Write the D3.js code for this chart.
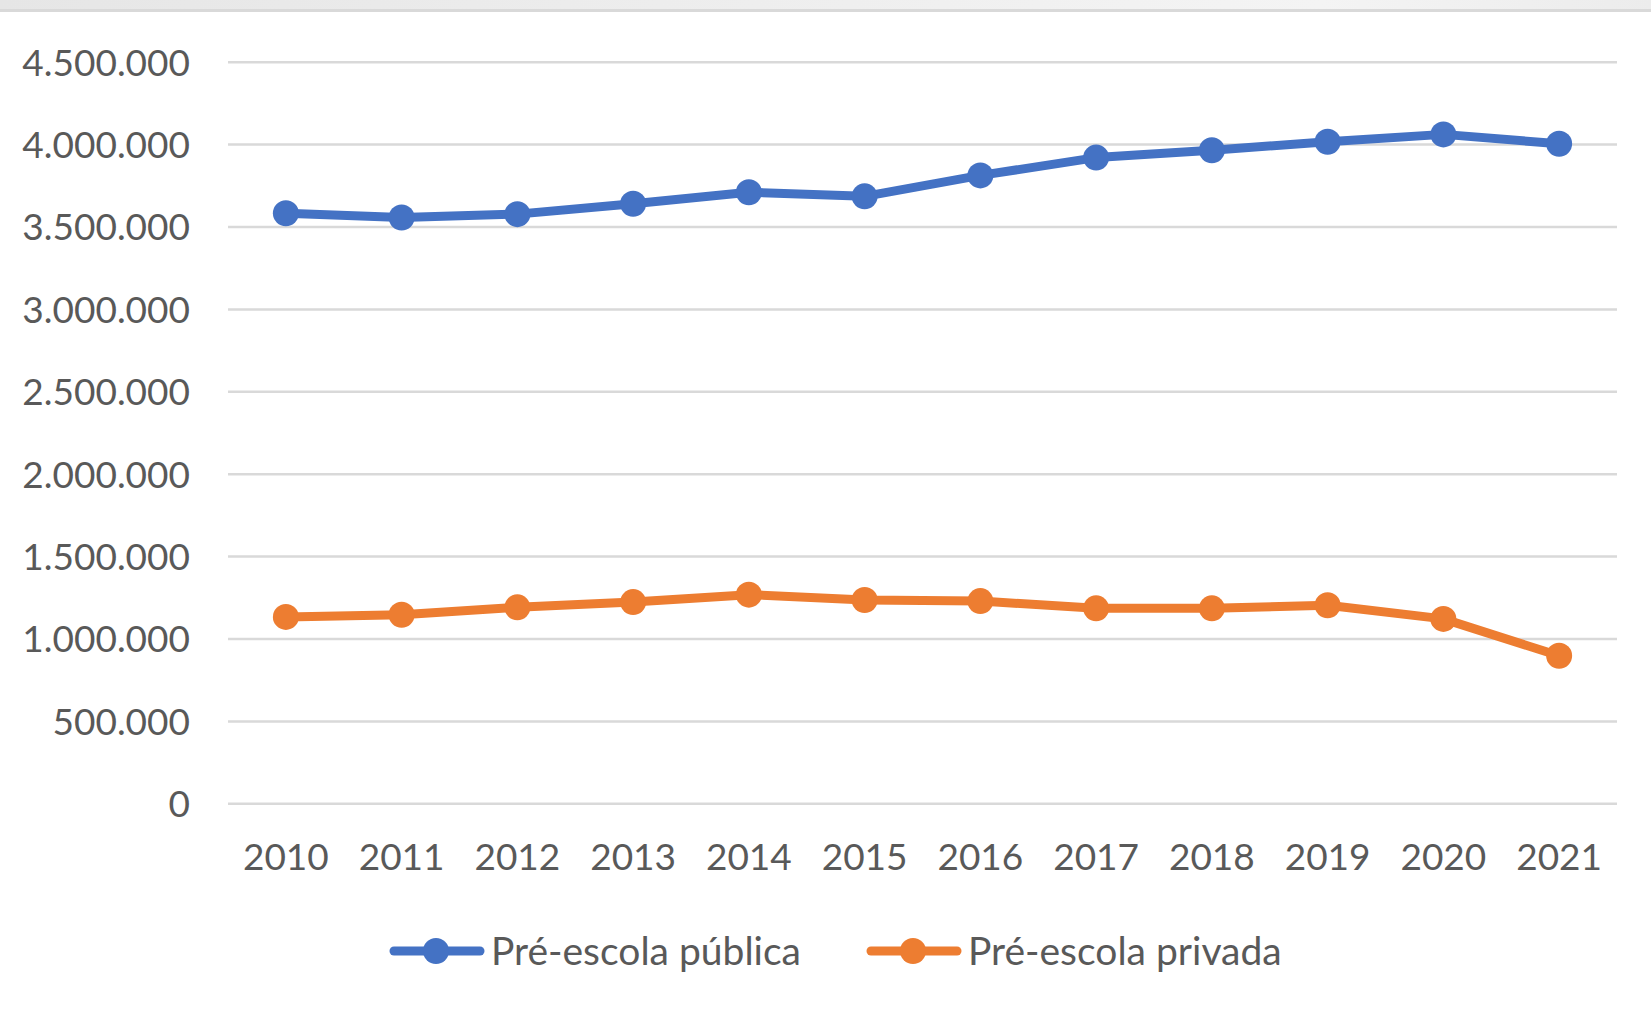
<!DOCTYPE html>
<html>
<head>
<meta charset="utf-8">
<script src="https://cdn.jsdelivr.net/npm/d3@7"></script>
<style>
  body { margin: 0; background: #fff; }
  text { font-family: Lato, "Noto Sans", sans-serif; fill: #595959; }
</style>
</head>
<body>
<div id="chart"></div>
<script>
var years = ['2010','2011','2012','2013','2014','2015','2016','2017','2018','2019','2020','2021'];
var publica = [3580000, 3555000, 3575000, 3638000, 3708000, 3683000, 3810000, 3918000, 3963000, 4014000, 4059000, 4002000];
var privada = [1131000, 1144000, 1189000, 1221000, 1266000, 1234000, 1227000, 1183000, 1183000, 1202000, 1119000, 895000];
var yTicks = [0, 500000, 1000000, 1500000, 2000000, 2500000, 3000000, 3500000, 4000000, 4500000];
var seriesNames = ['Pré-escola pública', 'Pré-escola privada'];
var seriesColors = ['#4472C4', '#ED7D31'];

var width = 1651;
var height = 1014;
var plotLeft = 228, plotRight = 1617, plotTop = 61.7, plotBottom = 803.3;

var svg = d3.select("#chart").append("svg")
  .attr("width", width)
  .attr("height", height);

/* top bar */
var grad = svg.append("defs").append("linearGradient")
  .attr("id", "topbar");
grad.append("stop").attr("offset", "0%").attr("stop-color", "#e6e6e6");
grad.append("stop").attr("offset", "80%").attr("stop-color", "#f4f4f4");
grad.append("stop").attr("offset", "100%").attr("stop-color", "#ececec");
svg.append("rect")
  .attr("x", 0).attr("y", 0)
  .attr("width", width).attr("height", 9)
  .attr("fill", "url(#topbar)");
svg.append("rect")
  .attr("x", 0).attr("y", 9)
  .attr("width", width).attr("height", 3)
  .attr("fill", "#d9d9d9");

/* Scale */
var xScale = d3.scaleBand()
  .domain(years)
  .range([plotLeft, plotRight]);

var yScale = d3.scaleLinear()
  .domain([0, 4500000])
  .range([plotBottom, plotTop]);

var fmt = function(v) { return d3.format(",")(v).replace(/,/g, "."); };

/* gridlines + y labels */
var yAxis = d3.axisLeft(yScale)
  .tickValues(yTicks)
  .tickSize(-(plotRight - plotLeft))
  .tickPadding(38)
  .tickFormat(fmt);

svg.append("g")
  .attr("class", "y axis")
  .attr("transform", `translate(${plotLeft}, 0)`)
  .call(yAxis)
  .call(g => g.select(".domain").remove())
  .call(g => g.selectAll("line").attr("stroke", "#d9d9d9").attr("stroke-width", 2.5))
  .call(g => g.selectAll("text").style("font-size", "37px").attr("fill", "#595959").attr("dy", "0.36em"));

/* x labels */
var xAxis = d3.axisBottom(xScale)
  .tickSize(0)
  .tickPadding(40);

svg.append("g")
  .attr("class", "x axis")
  .attr("transform", `translate(0, ${plotBottom})`)
  .call(xAxis)
  .call(g => g.select(".domain").remove())
  .call(g => g.selectAll("text").style("font-size", "37px").attr("fill", "#595959"));

/* lines */
var data = [publica, privada].map(function(vals, i) {
  return {
    name: seriesNames[i],
    color: seriesColors[i],
    values: vals.map(function(v, j) { return { year: years[j], value: v }; })
  };
});

var line = d3.line()
  .x(d => xScale(d.year) + xScale.bandwidth() / 2)
  .y(d => yScale(d.value));

var groups = svg.selectAll(".line-group")
  .data(data).enter()
  .append("g")
  .attr("class", "line-group");

groups.append("path")
  .attr("d", d => line(d.values))
  .attr("fill", "none")
  .attr("stroke", d => d.color)
  .attr("stroke-width", 9)
  .attr("stroke-linejoin", "round")
  .attr("stroke-linecap", "round");

groups.selectAll("circle")
  .data(d => d.values.map(v => ({ year: v.year, value: v.value, color: d.color })))
  .enter()
  .append("circle")
  .attr("cx", d => xScale(d.year) + xScale.bandwidth() / 2)
  .attr("cy", d => yScale(d.value))
  .attr("r", 13)
  .attr("fill", d => d.color);

/* legend */
var legendX = [390, 867];
var legend = svg.selectAll(".legend")
  .data(data).enter()
  .append("g")
  .attr("class", "legend")
  .attr("transform", (d, i) => `translate(${legendX[i]}, 951)`);

legend.append("line")
  .attr("x1", 4).attr("x2", 90)
  .attr("stroke", d => d.color)
  .attr("stroke-width", 9)
  .attr("stroke-linecap", "round");

legend.append("circle")
  .attr("cx", 46)
  .attr("r", 13)
  .attr("fill", d => d.color);

legend.append("text")
  .attr("x", 101)
  .attr("dy", "0.36em")
  .style("font-size", "39px")
  .text(d => d.name);
</script>
</body>
</html>
